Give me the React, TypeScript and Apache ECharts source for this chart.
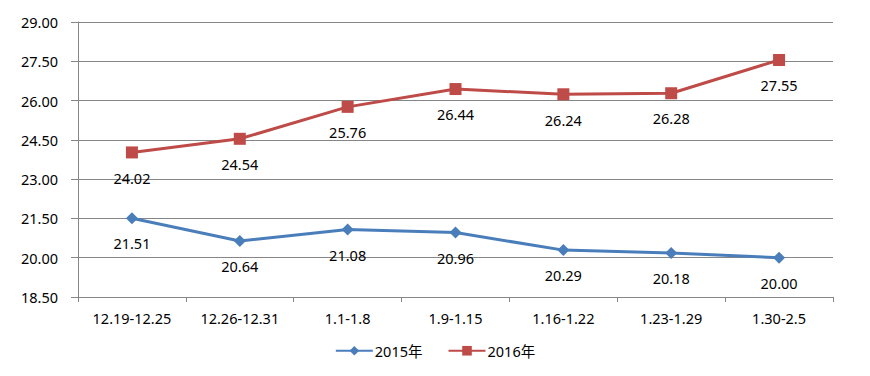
import React, { useEffect, useRef } from "react";
import * as echarts from "echarts";

const categories = ["12.19-12.25", "12.26-12.31", "1.1-1.8", "1.9-1.15", "1.16-1.22", "1.23-1.29", "1.30-2.5"];
const series2015 = [21.51, 20.64, 21.08, 20.96, 20.29, 20.18, 20.0];
const series2016 = [24.02, 24.54, 25.76, 26.44, 26.24, 26.28, 27.55];
const seriesNames = ["2015年", "2016年"];

const FONT = "'Noto Sans', 'Noto Sans CJK SC', sans-serif";
const AXIS_COLOR = "#868686";
const FS = 14.5;

export default function App() {
  const ref = useRef<HTMLDivElement>(null);
  useEffect(() => {
    if (!ref.current) return;
    const chart = echarts.init(ref.current, null, { renderer: "svg" });
    const labelCfg = {
      show: true,
      position: "bottom",
      distance: 12,
      color: "#000",
      fontSize: FS,
      fontFamily: FONT,
      formatter: (p: any) => Number(p.value).toFixed(2),
    };
    chart.setOption({
      animation: false,
      textStyle: { fontFamily: FONT },
      grid: { left: 78, right: 37, top: 22, bottom: 79, containLabel: false },
      legend: {
        bottom: 13,
        left: "center",
        itemWidth: 37,
        itemHeight: 12,
        itemGap: 25,
        textStyle: { fontSize: FS, color: "#000", fontFamily: FONT, padding: [0, 0, 0, -3] },
        data: seriesNames,
      },
      xAxis: {
        type: "category",
        data: categories,
        boundaryGap: true,
        axisLine: { lineStyle: { color: AXIS_COLOR, width: 1 } },
        axisTick: { show: true, length: 5, lineStyle: { color: AXIS_COLOR } },
        axisLabel: { color: "#000", fontSize: FS, margin: 14, fontFamily: FONT },
      },
      yAxis: {
        type: "value",
        min: 18.5,
        max: 29,
        interval: 1.5,
        axisLine: { show: true, lineStyle: { color: AXIS_COLOR, width: 1 } },
        axisTick: { show: true, length: 7, lineStyle: { color: AXIS_COLOR } },
        splitLine: { show: true, lineStyle: { color: AXIS_COLOR, width: 1 } },
        axisLabel: {
          color: "#000",
          fontSize: FS,
          margin: 20,
          fontFamily: FONT,
          formatter: (v: number) => v.toFixed(2),
        },
      },
      series: [
        {
          name: seriesNames[0],
          type: "line",
          data: series2015,
          symbol: "diamond",
          symbolSize: 12,
          lineStyle: { color: "#4A7EBB", width: 3 },
          itemStyle: { color: "#4A7EBB" },
          label: labelCfg,
        },
        {
          name: seriesNames[1],
          type: "line",
          data: series2016,
          symbol: "rect",
          symbolSize: 12,
          lineStyle: { color: "#BE4B48", width: 3 },
          itemStyle: { color: "#BE4B48" },
          label: labelCfg,
        },
      ],
    });
    return () => chart.dispose();
  }, []);
  return <div ref={ref} style={{ position: "absolute", left: 0, top: 0, width: 870, height: 376 }} />;
}
